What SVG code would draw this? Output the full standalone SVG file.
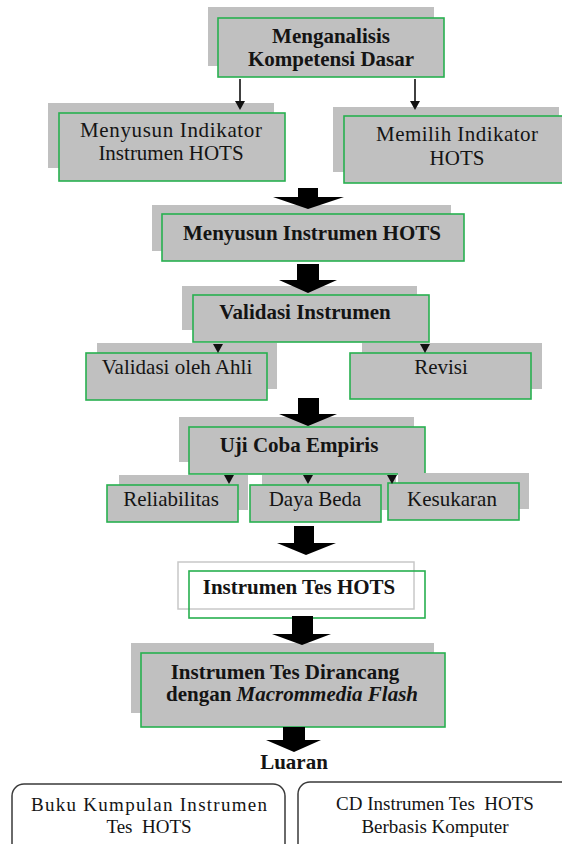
<svg xmlns="http://www.w3.org/2000/svg" width="562" height="844" viewBox="0 0 562 844">
<style>
.sh{fill:#c0c0c0}
.bx{fill:#c0c0c0;stroke:#27b04f;stroke-width:1.6}
.gb{fill:none;stroke:#27b04f;stroke-width:1.6}
.t{font-family:"Liberation Serif","Times New Roman",serif;font-size:21px;fill:#141414;text-anchor:middle}
.b{font-weight:bold}
.s{font-size:19px;white-space:pre}
.ob{fill:#fff;stroke:#3a3a3a;stroke-width:1.5}
.ln{stroke:#111;stroke-width:1.6;fill:none}
.hd{fill:#111}
.big{fill:#050505}
</style>
<defs>
<filter id="soft" x="-20%" y="-20%" width="140%" height="140%"><feGaussianBlur stdDeviation="0.6"/></filter>
</defs>
<rect width="562" height="844" fill="#fff"/>

<g id="n-menganalisis">
<rect class="sh" x="208" y="7" width="226" height="59"/>
<rect class="bx" x="218" y="18" width="226" height="59"/>
<text class="t b" x="331" y="43">Menganalisis</text>
<text class="t b" x="331" y="66">Kompetensi Dasar</text>
</g>

<g id="n-menyusun-indikator">
<rect class="sh" x="48" y="103" width="226" height="65"/>
<rect class="bx" x="59" y="113" width="226" height="68"/>
<text class="t" x="171" y="137" textLength="182">Menyusun Indikator</text>
<text class="t" x="171" y="160">Instrumen HOTS</text>
</g>

<g id="n-memilih-indikator">
<rect class="sh" x="333" y="107" width="226" height="65"/>
<rect class="bx" x="344" y="116" width="226" height="67"/>
<text class="t" x="457" y="141" textLength="162">Memilih Indikator</text>
<text class="t" x="457" y="165">HOTS</text>
</g>

<g id="n-menyusun-instrumen">
<rect class="sh" x="152" y="205" width="299" height="46"/>
<rect class="bx" x="162" y="214" width="302" height="47"/>
<text class="t b" x="312" y="240">Menyusun Instrumen HOTS</text>
</g>

<g id="n-validasi-instrumen">
<rect class="sh" x="182" y="286" width="235" height="44"/>
<rect class="bx" x="193" y="295" width="236" height="47"/>
<text class="t b" x="305" y="319">Validasi Instrumen</text>
</g>

<g id="n-validasi-ahli">
<rect class="sh" x="97" y="343" width="180" height="46"/>
<rect class="bx" x="86" y="353" width="181" height="47"/>
<text class="t" x="177" y="374">Validasi oleh Ahli</text>
</g>

<g id="n-revisi">
<rect class="sh" x="362" y="343" width="180" height="46"/>
<rect class="bx" x="350" y="353" width="181" height="46"/>
<text class="t" x="441" y="374">Revisi</text>
</g>

<g id="n-uji-coba">
<rect class="sh" x="179" y="417" width="235" height="45"/>
<rect class="bx" x="189" y="427" width="236" height="47"/>
<text class="t b" x="299" y="452">Uji Coba Empiris</text>
</g>

<g id="n-reliabilitas">
<rect class="sh" x="119" y="475" width="129" height="35"/>
<rect class="bx" x="107" y="485" width="131" height="37"/>
<text class="t" x="171" y="506">Reliabilitas</text>
</g>

<g id="n-daya-beda">
<rect class="sh" x="262" y="475" width="134" height="35"/>
<rect class="bx" x="250" y="485" width="131" height="37"/>
<text class="t" x="315" y="506">Daya Beda</text>
</g>

<g id="n-kesukaran">
<rect class="sh" x="398" y="473" width="131" height="36"/>
<rect class="bx" x="388" y="483" width="131" height="37"/>
<text class="t" x="452" y="506">Kesukaran</text>
</g>

<g id="n-instrumen-tes">
<rect x="178" y="562" width="236" height="47" fill="#fff" stroke="#c8c8c8" stroke-width="1.5"/>
<rect class="gb" x="189" y="571" width="236" height="47"/>
<text class="t b" x="299" y="594">Instrumen Tes HOTS</text>
</g>

<g id="n-dirancang">
<rect class="sh" x="131" y="643" width="303" height="70"/>
<rect class="bx" x="141" y="653" width="304" height="74"/>
<text class="t b" x="285" y="679">Instrumen Tes Dirancang</text>
<text class="t b" x="292" y="701">dengan <tspan font-style="italic">Macrommedia Flash</tspan></text>
</g>

<g id="n-luaran">
<text class="t b" x="294" y="769">Luaran</text>
</g>

<g id="n-buku">
<rect class="ob" x="12" y="784" width="273" height="80" rx="12"/>
<text class="t s" x="149" y="811" textLength="236">Buku Kumpulan Instrumen</text>
<text class="t s" x="149" y="833">Tes  HOTS</text>
</g>

<g id="n-cd">
<rect class="ob" x="298" y="782" width="275" height="80" rx="12"/>
<text class="t s" x="435" y="810">CD Instrumen Tes  HOTS</text>
<text class="t s" x="435" y="833">Berbasis Komputer</text>
</g>

<g id="connectors">
<line class="ln" x1="240" y1="79" x2="240" y2="103"/>
<polygon class="hd" points="235,101 245,101 240,110"/>
<line class="ln" x1="415" y1="79" x2="415" y2="103"/>
<polygon class="hd" points="410,101 420,101 415,110"/>

<polygon class="hd" points="213,344 223,344 218,353"/>
<polygon class="hd" points="420,344 430,344 425,353"/>

<polygon class="hd" points="224,475 234,475 229,484"/>
<polygon class="hd" points="303,475 313,475 308,484"/>
<polygon class="hd" points="387,475 397,475 392,484"/>

<g filter="url(#soft)">
<polygon class="big" points="298,188 318,188 318,197 344,197 308,209 273,197 298,197"/>
<polygon class="big" points="297,264 319,264 319,280 337,280 308,293 279,280 297,280"/>
<polygon class="big" points="298,398 319,398 319,414 337,414 308,426 279,414 298,414"/>
<polygon class="big" points="294,526 314,526 314,543 336,543 306,555 277,543 294,543"/>
<polygon class="big" points="292,616 313,616 313,634 331,634 302,645 272,634 292,634"/>
<polygon class="big" points="283,727 305,727 305,740 321,740 294,752 266,740 283,740"/>
</g>
</g>
</svg>
